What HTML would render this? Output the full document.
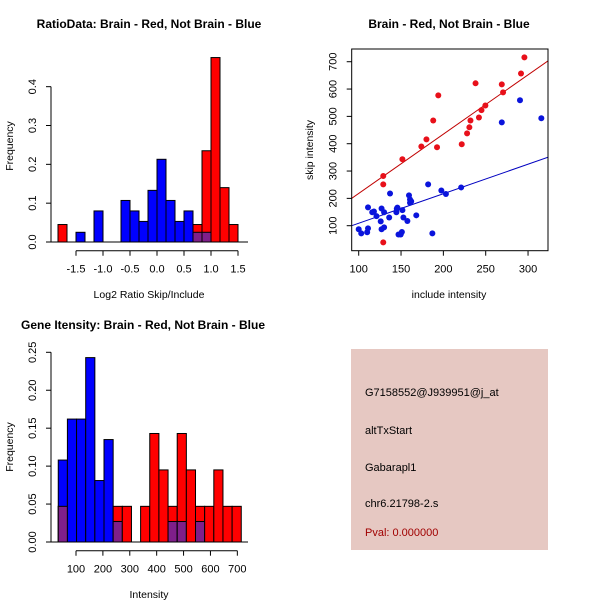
<!DOCTYPE html>
<html><head><meta charset="utf-8"><style>
body{margin:0;background:#fff}
svg{display:block;font-family:"Liberation Sans",sans-serif}
</style></head><body>
<svg id="s" width="600" height="600" viewBox="0 0 600 600">
<rect width="600" height="600" fill="#fff"/>
<g id="p1"></g>
<g id="p2"></g>
<g id="p3"></g>
<g>
<rect x="351" y="349" width="197" height="201" fill="#e6c8c2"/>
<text x="365" y="396" font-size="11">G7158552@J939951@j_at</text>
<text x="365" y="434" font-size="11">altTxStart</text>
<text x="365" y="471" font-size="11">Gabarapl1</text>
<text x="365" y="507" font-size="11">chr6.21798-2.s</text>
<text x="365" y="536" font-size="11" fill="#a00000">Pval: 0.000000</text>
</g>
</svg>
<script>
// Plot 1: ratio histogram (bins of width 1/6 starting at -1.8333)
const ratioRed  = [0.045,0,0,0,0,0,0,0,0,0,0,0,0,0,0,0.045,0.235,0.475,0.14,0.045];
const ratioBlue = [0,0,0.025,0,0.08,0,0,0.107,0.08,0.053,0.133,0.213,0.107,0.053,0.08,0.025,0.025,0,0,0];
const ratioXTicks = [-1.5,-1.0,-0.5,0.0,0.5,1.0,1.5];
const ratioYTicks = [0.0,0.1,0.2,0.3,0.4];
// Plot 2: scatter
const redX  = [129,129,129,151.6,174,180,188,194,192.5,221.7,228,230.7,232,238,242,245,249.6,269,270.5,291.7,295.7];
const redY  = [282,251,39,343,390,416,485,577,387,398,438,460,485,621,496,523,540,617,588,657,716];
const blueX = [100,103,111,110,111,116,118,121,126,127,127,130,130,137,136,144.5,145,145.7,147,149.6,151,151.6,152.8,157.5,159.4,160.6,160.6,162,168,182,187,197.6,203,221,269,290.5,315.7];
const blueY = [87,72,167,76,90,149,152,135,116,163,87,94,149,218,130,149,162,166,68,68,77,157,130,117,211,196,184,189,138,251,72,229,216,240,478,559,493];
const redFit = [1, 2.17];
const blueFit = [1, 1.08];
const scXTicks = [100,150,200,250,300];
const scYTicks = [100,200,300,400,500,600,700];
// Plot 3: intensity histogram (bins of width 34 starting at 34)
const intRed  = [0.047,0,0,0,0,0,0.047,0.047,0,0.047,0.143,0.095,0.047,0.143,0.095,0.047,0.047,0.095,0.047,0.047];
const intBlue = [0.108,0.162,0.162,0.243,0.081,0.135,0.027,0,0,0,0,0,0.027,0.027,0,0.027,0,0,0,0];
const intXTicks = [100,200,300,400,500,600,700];
const intYTicks = ["0.00","0.05","0.10","0.15","0.20","0.25"];

const NS="http://www.w3.org/2000/svg";
function mk(parent,tag,attrs,txt){const e=document.createElementNS(NS,tag);for(const k in attrs)e.setAttribute(k,attrs[k]);if(txt!==undefined)e.textContent=txt;parent.appendChild(e);return e;}

function hist(g,red,blue,start,w,sx,sy,base){
  for(let i=0;i<red.length;i++){
    const x0=sx(start+i*w),x1=sx(start+(i+1)*w);
    const r=red[i],b=blue[i];
    if(r>0){const e=mk(g,'rect',{x:x0,y:sy(r),width:x1-x0,height:base-sy(r),fill:'#ff0000',stroke:'#000','stroke-width':1});
      }
    if(b>0){
      if(r>0){const m=Math.min(r,b);
        if(b>r){const e=mk(g,'rect',{x:x0,y:sy(b),width:x1-x0,height:base-sy(b),fill:'#0000ff',stroke:'#000','stroke-width':1});
          }
        const e=mk(g,'rect',{x:x0,y:sy(m),width:x1-x0,height:base-sy(m),fill:'#7f1f8a',stroke:'#000','stroke-width':1});
        
      } else {const e=mk(g,'rect',{x:x0,y:sy(b),width:x1-x0,height:base-sy(b),fill:'#0000ff',stroke:'#000','stroke-width':1});
        }
    }
  }
}
function yAxis(g,ticks,sy,ax,vals){
  const y0=sy(vals[0]),y1=sy(vals[vals.length-1]);
  mk(g,'line',{x1:ax,x2:ax,y1:y0,y2:y1,stroke:'#000'});
  ticks.forEach((t,i)=>{const y=sy(vals[i]);mk(g,'line',{x1:ax-5,x2:ax,y1:y,y2:y,stroke:'#000'});
    const tx=mk(g,'text',{x:0,y:0,'font-size':11,'text-anchor':'middle',transform:`translate(${ax-15},${y}) rotate(-90)`},t);
    });
}
function xAxis(g,ticks,sx,ay,lab){
  mk(g,'line',{x1:sx(ticks[0]),x2:sx(ticks[ticks.length-1]),y1:ay,y2:ay,stroke:'#000'});
  ticks.forEach((t,i)=>{const x=sx(t);mk(g,'line',{x1:x,x2:x,y1:ay,y2:ay+5,stroke:'#000'});
    const tx=mk(g,'text',{x:x,y:ay+22,'font-size':11,'text-anchor':'middle'},lab[i]);
    });
}
function label(g,x,y,t,rot,bold,name,anchor){
  const e=mk(g,'text',{x:0,y:0,'font-size':bold?12:10.5,'font-weight':bold?'bold':'normal','text-anchor':anchor||'middle',transform:`translate(${x},${y})`+(rot?' rotate(-90)':'')},t);
  
}

// Plot 1
(function(){
  const g=document.getElementById('p1');
  const sx=v=>157+54*v, base=242, sy=v=>base-v*388.3;
  hist(g,ratioRed,ratioBlue,-1.8333,1/6,sx,sy,base);
  mk(g,'line',{x1:51,x2:248,y1:base,y2:base,stroke:'#000'});
  yAxis(g,ratioYTicks.map(v=>v.toFixed(1)),sy,51,ratioYTicks);
  xAxis(g,ratioXTicks,sx,250.7,ratioXTicks.map(v=>v.toFixed(1)));
  label(g,149,28,'RatioData: Brain - Red, Not Brain - Blue',false,true,'ratio-title');
  label(g,149,298,'Log2 Ratio Skip/Include',false,false,'ratio-x-title');
  label(g,13,146,'Frequency',true,false,'ratio-y-title');
})();

// Plot 2
(function(){
  const g=document.getElementById('p2');
  const sx=v=>358.7+(v-100)*0.8467, sy=v=>225.7-(v-100)*0.2733;
  const L=351.7,R=548,T=49,B=250.7;
  const xl=(L-358.7)/0.8467+100, xr=(R-358.7)/0.8467+100;
  const cp=mk(g,'clipPath',{id:'c2'});mk(cp,'rect',{x:L,y:T,width:R-L,height:B-T});
  const lg=mk(g,'g',{'clip-path':'url(#c2)'});
  let e=mk(lg,'line',{x1:sx(xl),y1:sy(redFit[0]+redFit[1]*xl),x2:sx(xr),y2:sy(redFit[0]+redFit[1]*xr),stroke:'#c00000'});
  
  e=mk(lg,'line',{x1:sx(xl),y1:sy(blueFit[0]+blueFit[1]*xl),x2:sx(xr),y2:sy(blueFit[0]+blueFit[1]*xr),stroke:'#0000c0'});
  
  redX.forEach((x,i)=>{const c=mk(g,'circle',{cx:sx(x),cy:sy(redY[i]),r:3,fill:'#e8101a'});
    });
  blueX.forEach((x,i)=>{const c=mk(g,'circle',{cx:sx(x),cy:sy(blueY[i]),r:3,fill:'#0a14dc'});
    });
  mk(g,'rect',{x:L,y:T,width:R-L,height:B-T,fill:'none',stroke:'#000'});
  scXTicks.forEach(t=>{const x=sx(t);mk(g,'line',{x1:x,x2:x,y1:B,y2:B+5,stroke:'#000'});
    const tx=mk(g,'text',{x:x,y:B+22,'font-size':11,'text-anchor':'middle'},String(t));
    });
  scYTicks.forEach(t=>{const y=sy(t);mk(g,'line',{x1:L-5,x2:L,y1:y,y2:y,stroke:'#000'});
    const tx=mk(g,'text',{x:0,y:0,'font-size':11,'text-anchor':'middle',transform:`translate(${L-15},${y}) rotate(-90)`},String(t));
    });
  label(g,449,28,'Brain - Red, Not Brain - Blue',false,true,'scatter-title');
  label(g,449,298,'include intensity',false,false,'scatter-x-title');
  label(g,313,150,'skip intensity',true,false,'scatter-y-title');
})();

// Plot 3
(function(){
  const g=document.getElementById('p3');
  const sx=v=>76+(v-100)*0.2689, base=542, sy=v=>base-v*758.8;
  hist(g,intRed,intBlue,34,34.03,sx,sy,base);
  mk(g,'line',{x1:51,x2:248,y1:base,y2:base,stroke:'#000'});
  yAxis(g,intYTicks,sy,51,intYTicks.map(Number));
  xAxis(g,intXTicks,sx,550.7,intXTicks.map(String));
  label(g,143,329,'Gene Itensity: Brain - Red, Not Brain - Blue',false,true,'intensity-title');
  label(g,149,598,'Intensity',false,false,'intensity-x-title');
  label(g,13,447,'Frequency',true,false,'intensity-y-title');
})();
</script>
</body></html>
